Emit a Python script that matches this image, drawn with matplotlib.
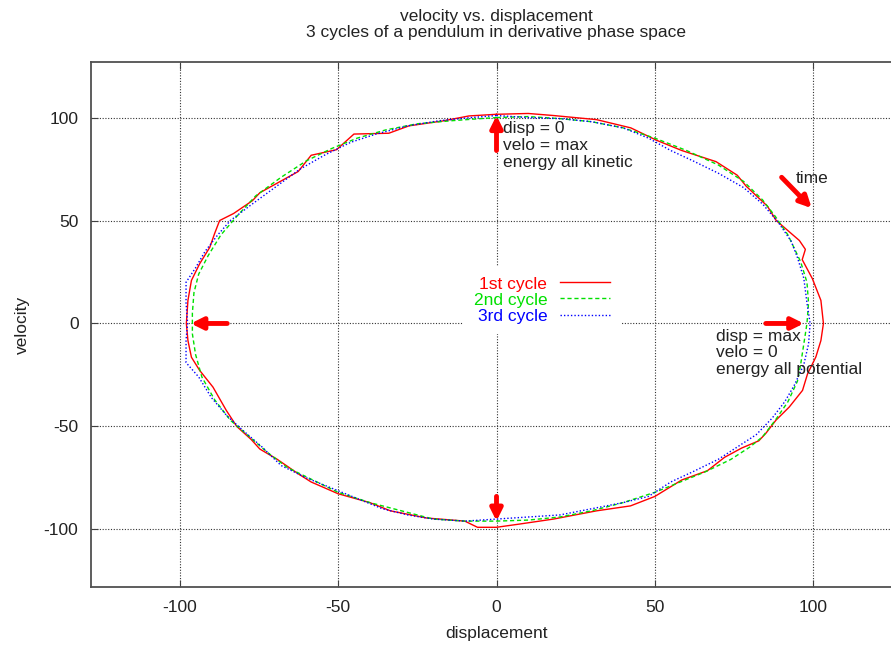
import matplotlib
matplotlib.use("Agg")
import matplotlib.pyplot as plt

plt.rcParams['font.family'] = ['Liberation Sans', 'DejaVu Sans']
plt.rcParams['axes.unicode_minus'] = False

# Phase-space samples (displacement, velocity), traversed clockwise from the top
cycle1_disp = [0, 10, 18, 31.6, 42.4, 50.5, 58.5, 69.3, 76, 78.8, 85.5, 88.3, 95.6, 97.5, 96.5, 99.7,
               102.4, 103.2, 102.4, 100.8, 98.2, 96.6, 92.4, 88.2, 85, 82.8, 77.4, 72, 66.6, 58.5,
               50, 42.3, 31.6, 18, 7.4, 0, -6, -10, -22, -33.5, -40, -50, -58.5, -62.6, -69.3,
               -74.7, -77.4, -82, -85.3, -89.5, -93.7, -96.3, -97.4, -97.9, -97.4, -96.3, -93.7,
               -90.5, -89, -87.4, -83, -77, -74.7, -62.6, -58.5, -50.5, -45, -34, -27.6, -16.8, -8.7, 0]
cycle1_velo = [101.6, 102, 101, 99, 95, 89, 84, 78.6, 72, 66.7, 57, 50, 40.3, 36, 31, 21.8,
               11.2, 0, -8.3, -16.3, -24.4, -32.5, -40.6, -47, -53.4, -57, -60.5, -65, -71.5, -76,
               -84, -88.6, -91, -95, -97.4, -99, -99, -96, -94.5, -91, -87, -82.7, -77, -73, -65.9,
               -61, -56.4, -50, -42.2, -30.9, -22.8, -16.4, -8.3, 0, 11.2, 20.9, 29,
               37, 43.6, 50, 53.4, 59.7, 63.5, 73.8, 81.7, 84.4, 92, 92.4, 96, 98.4, 100.8, 101.6]

cycle2_disp = [0, 10, 20, 30, 40, 50, 60, 70, 78, 84, 88, 92, 96, 98, 98.5, 98, 97, 96, 95, 92,
               88, 84, 80, 74, 66, 58, 50, 40, 30, 20, 10, 0, -10, -20, -30, -40, -50, -58, -66,
               -72, -78, -84, -89, -93, -95, -96, -96, -95.5, -94, -91, -87, -82, -76, -68, -60,
               -52, -44, -35, -25, -14, -5, 0]
cycle2_velo = [100, 100.5, 99.5, 98, 95, 90, 84, 77, 69, 60, 52, 43, 30, 20, 10, 0, -10, -20, -28,
               -38, -47, -55, -60, -66, -72, -77, -82, -87, -91, -94, -95.5, -96, -96, -95, -91,
               -87, -82, -76, -70, -63, -55, -47, -37, -26, -15, -5, 5, 15, 24, 33, 43, 52, 62,
               71, 79, 85, 90, 94, 97, 98.5, 99.5, 100]

cycle3_disp = [0, 10, 20, 30, 40, 48, 55, 62, 70, 78, 84, 89, 93, 95, 97, 98, 99, 98.5, 97, 94,
               91, 87, 82, 76, 70, 62, 55, 48, 40, 30, 20, 10, 0, -10, -20, -28, -36, -44, -52,
               -60, -68, -74, -80, -85, -90, -94, -98, -98, -97.5, -98, -98, -95, -92, -88, -84,
               -78, -70, -62, -54, -46, -38, -28, -18, -8, 0]
cycle3_velo = [101, 100, 99.5, 98, 95, 90, 84, 79, 73, 66, 58, 49, 40, 32, 22, 10, 0, -10, -20,
               -30, -38, -46, -54, -60, -66, -72, -77, -84, -87, -90, -93, -94, -95, -96, -95,
               -93, -90, -85, -80, -75, -69, -60, -52, -45, -36, -26, -19, -8, 0, 10, 20, 27, 35,
               43, 50, 57, 66, 75, 82, 88, 92, 96, 98.5, 100, 101]

cycle_labels = ["1st cycle", "2nd cycle", "3rd cycle"]
cycle_colors = ["#ff0000", "#00e000", "#0000ff"]
cycle_styles = ["-", (0, (3, 2)), (0, (1, 1.5))]

x_ticks = [-100, -50, 0, 50, 100]
y_ticks = [-100, -50, 0, 50, 100]

# Arrows: (tail, head) in data coordinates
arrows = [((0, 84), (0, 101)),
          ((0, -84), (0, -96)),
          ((-85, 0), (-96.5, 0)),
          ((85, 0), (97, 0)),
          ((90, 71), (99.5, 56))]

fig = plt.figure(figsize=(8.91, 6.45), dpi=100)
ax = fig.add_axes([91 / 891, 1 - 587 / 645, 811 / 891, 525 / 645])
ax.set_xlim(-128, 128)
ax.set_ylim(-128, 127)

text_color = "#222222"
fs = 12.5

for xs, ys, lab, c, ls in zip([cycle1_disp, cycle2_disp, cycle3_disp],
                              [cycle1_velo, cycle2_velo, cycle3_velo],
                              cycle_labels, cycle_colors, cycle_styles):
    ax.plot(xs, ys, color=c, linestyle=ls, linewidth=1.0, label=lab, zorder=3)

ax.set_xticks(x_ticks)
ax.set_yticks(y_ticks)
ax.tick_params(direction="in", length=5, width=0.8, colors="#404040",
               labelcolor=text_color, labelsize=fs, pad=9, top=True, right=True)
ax.grid(True, color="#333333", linestyle=(0, (1, 1.5)), linewidth=0.8)
ax.set_axisbelow(True)
for s in ax.spines.values():
    s.set_color("#505050")
    s.set_linewidth(1.3)
ax.spines["right"].set_visible(False)

ax.set_xlabel("displacement", fontsize=fs, color=text_color, labelpad=8)
ax.set_ylabel("velocity", fontsize=fs, color=text_color, labelpad=10)
ax.set_title("velocity vs. displacement\n3 cycles of a pendulum in derivative phase space",
             fontsize=fs, color=text_color, pad=18, linespacing=1.05)

for tail, head in arrows:
    ax.annotate("", xy=head, xytext=tail,
                arrowprops=dict(arrowstyle="-|>,head_length=0.5,head_width=0.25",
                                color="#ff0000", lw=3.5, shrinkA=0, shrinkB=0,
                                mutation_scale=14), zorder=4)

ax.text(2, 98.5, "disp = 0\nvelo = max\nenergy all kinetic", fontsize=fs,
        color=text_color, ha="left", va="top", linespacing=1.2, zorder=5)
ax.text(94.6, 70.4, "time", fontsize=fs, color=text_color, ha="left", va="center", zorder=5)
ax.text(69.4, -2.5, "disp = max\nvelo = 0\nenergy all potential", fontsize=fs,
        color=text_color, ha="left", va="top", linespacing=1.15, zorder=5)

leg = ax.legend(loc="center", bbox_to_anchor=(542 / 891, 1 - 300 / 645),
                bbox_transform=fig.transFigure, frameon=True, facecolor="white",
                edgecolor="none", framealpha=1, fancybox=False, markerfirst=False,
                labelcolor="linecolor", fontsize=fs, handlelength=2.9,
                handletextpad=0.75, labelspacing=0.05, borderpad=0.6, borderaxespad=0)
leg.set_zorder(6)

fig.savefig("out.png", dpi=100)
